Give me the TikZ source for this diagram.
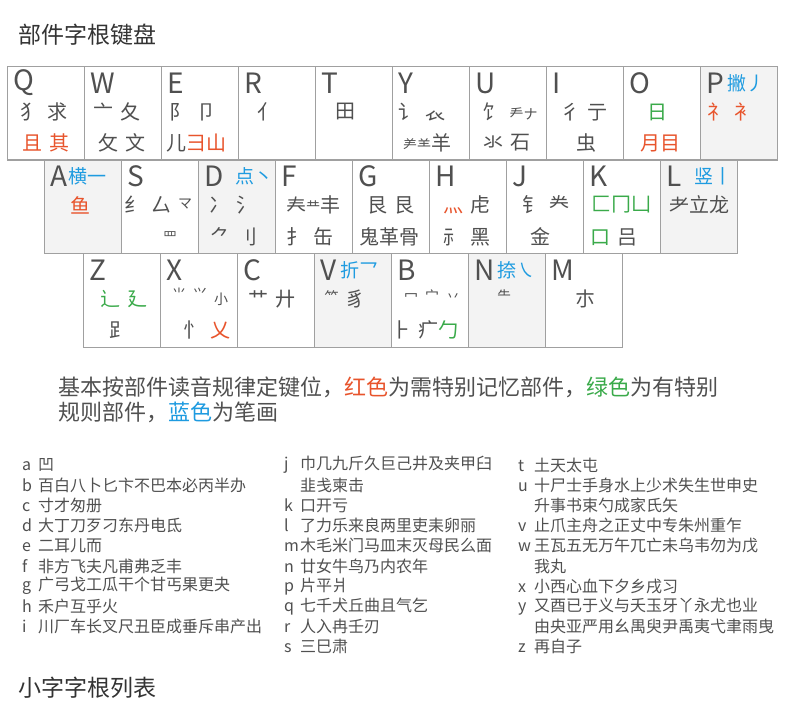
\documentclass[tikz,border=0pt]{standalone}
\usepackage{fontspec}
\setmainfont{Noto Sans CJK SC}
\usetikzlibrary{positioning}
\definecolor{kred}{HTML}{E8542C}
\definecolor{kgreen}{HTML}{3AAA4A}
\definecolor{kblue}{HTML}{1E9BE0}
\definecolor{ktext}{HTML}{505050}
\definecolor{khead}{HTML}{333333}
\definecolor{kborder}{HTML}{A0A0A0}
\definecolor{kshade}{HTML}{F3F3F3}
\newcommand\rgap{\hspace{7pt}}
\newcommand\smallrad[1]{{\fontsize{14}{14}\selectfont #1}}
\newcommand\li[2]{\makebox[16pt][l]{#1}#2}

\tikzset{
  keybox/.style={draw=kborder, line width=1.2pt, fill=white, anchor=north west,
    minimum width=77pt, minimum height=93.5pt, inner sep=0pt},
  keyshade/.style={keybox, fill=kshade},
  keyletter/.style={anchor=west, inner sep=0pt, text=ktext, font=\fontsize{28}{28}\selectfont},
  strokenote/.style={inner sep=0pt, text=kblue, font=\fontsize{19}{19}\selectfont},
  radix/.style={inner sep=0pt, text=ktext, font=\fontsize{20}{20}\selectfont},
  listrow/.style={anchor=west, inner sep=0pt, text=ktext, font=\fontsize{16}{16}\selectfont},
  heading/.style={anchor=west, inner sep=0pt, text=khead, font=\fontsize{23}{23}\selectfont},
  notetext/.style={anchor=west, inner sep=0pt, text=ktext, font=\fontsize{22}{22}\selectfont}
}

\begin{document}
\begin{tikzpicture}[x=1pt, y=-1pt]
  \fill[white] (0,0) rectangle (800,727);
  \useasboundingbox (0,0) rectangle (800,727);

  \node[heading] (title) at (18,35) {部件字根键盘};

  % keyboard
  \foreach \k/\x/\y/\s in {Q/7/66/keybox, W/84/66/keybox, E/161/66/keybox,
      R/238/66/keybox, T/315/66/keybox, Y/392/66/keybox, U/469/66/keybox,
      I/546/66/keybox, O/623/66/keybox, P/700/66/keyshade,
      A/44/159.5/keyshade, S/121/159.5/keybox, D/198/159.5/keyshade,
      F/275/159.5/keybox, G/352/159.5/keybox, H/429/159.5/keybox,
      J/506/159.5/keybox, K/583/159.5/keybox, L/660/159.5/keyshade,
      Z/83/253/keybox, X/160/253/keybox, C/237/253/keybox, V/314/253/keyshade,
      B/391/253/keybox, N/468/253/keyshade, M/545/253/keybox} {
    \node[\s] (k\k) at (\x,\y) {};
    \node[keyletter] (l\k) at ([xshift=6pt, yshift=-17pt]k\k.north west) {\k};
  }

  % strokes
  \node[strokenote, right=3pt of lP] (sP) {撇丿};
  \node[strokenote, right=1pt of lA] (sA) {横一};
  \node[strokenote, right=12pt of lD] (sD) {点丶};
  \node[strokenote, right=13pt of lL] (sL) {竖丨};
  \node[strokenote, right=4pt of lV] (sV) {折乛};
  \node[strokenote, right=3pt of lN] (sN) {捺㇏};

  % first row
  \node[radix] (gQa) at (44,112) {犭\rgap 求};
  \node[radix, text=kred] (gQb) at (46,143) {且\rgap 其};
  \node[radix] (gWa) at (117,112) {亠\rgap 夂};
  \node[radix] (gWb) at (122,143) {攵\rgap 文};
  \node[radix] (gEa) at (193,112) {阝\rgap 卩};
  \node[radix] (gEb) at (196,143) {儿{\color{kred}彐山}};
  \node[radix] (gRa) at (267,112) {亻};
  \node[radix] (gTa) at (345,112) {田};
  \node[radix] (gYa) at (422,112) {讠\rgap 𧘇};
  \node[radix] (gYb) at (427,143) {\smallrad{⺶⺷}羊};
  \node[radix] (gUa) at (510,112) {饣\rgap\smallrad{龵ナ}};
  \node[radix] (gUb) at (507,143) {氺\rgap 石};
  \node[radix] (gIa) at (584,112) {彳\rgap 亍};
  \node[radix] (gIb) at (586,143) {虫};
  \node[radix, text=kgreen] (gOa) at (657,112) {日};
  \node[radix, text=kred] (gOb) at (660,143) {月目};
  \node[radix, text=kred] (gPa) at (731,112) {礻\rgap 衤};

  % second row
  \node[radix, text=kred] (gAa) at (80,205) {鱼};
  \node[radix] (gSa) at (158,205) {纟\rgap 厶\rgap\smallrad{\raisebox{4pt}{マ}}};
  \node[radix] (gSb) at (170,237) {\smallrad{罒}};
  \node[radix] (gDa) at (233,205) {冫\rgap 氵};
  \node[radix] (gDb) at (234,237) {⺈\rgap 刂};
  \node[radix] (gFa) at (313,205) {𡗗\smallrad{龷}丰};
  \node[radix] (gFb) at (310,237) {扌\rgap 缶};
  \node[radix] (gGa) at (391,205) {⾉\rgap 艮};
  \node[radix] (gGb) at (389,237) {鬼革骨};
  \node[radix] (gHa) at (467,205) {{\color{kred}灬}\rgap 虍};
  \node[radix] (gHb) at (467,237) {⺬\rgap 黑};
  \node[radix] (gJa) at (546,205) {钅\rgap 龹};
  \node[radix] (gJb) at (540,237) {金};
  \node[radix, text=kgreen] (gKa) at (621,205) {匚冂凵};
  \node[radix] (gKb) at (614,237) {{\color{kgreen}口}\rgap 吕};
  \node[radix] (gLa) at (699,205) {耂立龙};

  % third row
  \node[radix, text=kgreen] (gZa) at (124,299) {辶\rgap 廴};
  \node[radix] (gZb) at (119,330) {⻊};
  \node[radix] (gXa) at (200,297) {\smallrad{⺌\rgap ⺍\rgap\raisebox{-5pt}{小}}};
  \node[radix] (gXb) at (207,330) {忄\rgap{\color{kred}乂}};
  \node[radix] (gCa) at (272,299) {艹\rgap 廾};
  \node[radix] (gVa) at (345,299) {\smallrad{\raisebox{4pt}{⺮}}\rgap 豸};
  \node[radix] (gBa) at (432,296) {\smallrad{冖\rgap 宀\rgap 丷}};
  \node[radix] (gBb) at (425,330) {⺊\rgap 疒{\color{kgreen}勹}};
  \node[radix] (gNa) at (504,296) {\smallrad{⺧}};
  \node[radix] (gMa) at (585,299) {朩};

  % legend
  \node[notetext] (note1) at (58,387) {基本按部件读音规律定键位，{\color{kred}红色}为需特别记忆部件，{\color{kgreen}绿色}为有特别};
  \node[notetext] (note2) at (58,412) {规则部件，{\color{kblue}蓝色}为笔画};

  % small radicals
  \foreach \t [count=\i from 0] in {\li{a}{凹}, \li{b}{百白八卜匕卞不巴本必丙半办},
      \li{c}{寸才匆册}, \li{d}{大丁刀歹刁东丹电氐}, \li{e}{二耳儿而},
      \li{f}{非方飞夫凡甫弗乏丰}, \li{g}{广弓戈工瓜干个甘丐果更夬},
      \li{h}{禾户互乎火}, \li{i}{川厂车长叉尺丑臣成垂斥串产出}}
    \node[listrow] (ca\i) at (22,{465+20.2*\i}) {\t};
  \foreach \t [count=\i from 0] in {\li{j}{巾几九斤久巨己井及夹甲臼}, \li{}{韭戋柬击},
      \li{k}{口开亏}, \li{l}{了力乐来良两里吏耒卵丽}, \li{m}{木毛米门马皿末灭母民么面},
      \li{n}{廿女牛鸟乃内农年}, \li{p}{片平爿}, \li{q}{七千犬丘曲且气乞},
      \li{r}{人入冉壬刃}, \li{s}{三巳肃}}
    \node[listrow] (cb\i) at (284,{465+20.2*\i}) {\t};
  \foreach \t [count=\i from 0] in {\li{t}{土天太屯}, \li{u}{十尸士手身水上少术失生世申史},
      \li{}{升事书束勺成家氏矢}, \li{v}{止爪主舟之正丈中专朱州重乍},
      \li{w}{王瓦五无万午兀亡未乌韦勿为戊}, \li{}{我丸}, \li{x}{小西心血下夕乡戌习},
      \li{y}{又酉已于义与夭玉牙丫永尤也业}, \li{}{由央亚严用幺禺臾尹禹夷弋聿雨曳},
      \li{z}{再自子}}
    \node[listrow] (cc\i) at (518,{465+20.2*\i}) {\t};

  \node[heading] (subtitle) at (18,688) {小字字根列表};
\end{tikzpicture}
\end{document}
